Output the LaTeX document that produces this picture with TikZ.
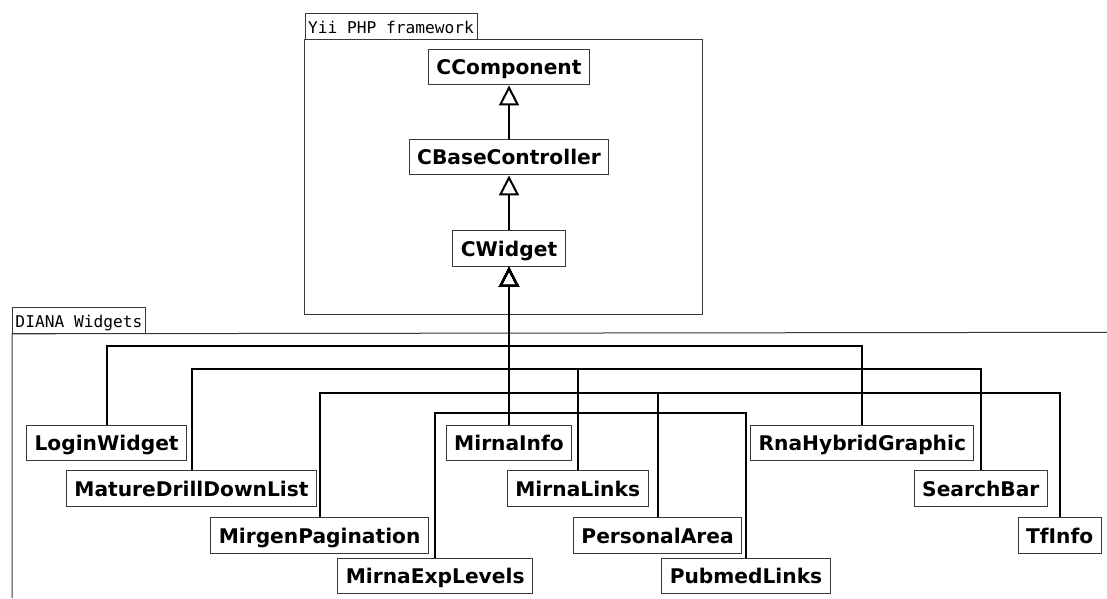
\documentclass[tikz,border=0pt]{standalone}
\usepackage{fontspec}
\setsansfont{DejaVu Sans}
\setmonofont{DejaVu Sans Mono}
\usepackage{tikz}
\usetikzlibrary{arrows.meta, positioning, calc}
\definecolor{mydark}{RGB}{0,0,0}
\definecolor{myborder}{RGB}{55,55,55}
\tikzset{
  classbox/.style={rectangle, draw=myborder, fill=white, line width=1pt,
    font=\sffamily\bfseries\fontsize{20.2}{24}\selectfont,
    text height=14.7pt, text depth=0pt, inner xsep=8pt, inner ysep=10.4pt},
  pkgtab/.style={rectangle, draw=myborder, line width=1pt, anchor=north west,
    font=\ttfamily\fontsize{16.2}{19}\selectfont,
    text height=16.8pt, text depth=2.7pt, inner xsep=3pt, inner ysep=3pt},
  pkgline/.style={draw=myborder, line width=1pt},
  inherit/.style={-{Triangle[open, length=20pt, width=20pt]}, line width=2pt, color=mydark}
}
\begin{document}
\begin{tikzpicture}[x=1pt, y=-1pt]
  \useasboundingbox (0,0) rectangle (1107,598);

  % Packages
  \node[pkgtab] (yiitab) at (304.7,13.3) {Yii PHP framework};
  \draw[pkgline] (yiitab.south west) rectangle (702.7,314.3);
  \node[pkgtab] (dianatab) at (12,307.3) {DIANA Widgets};
  \draw[pkgline] (1107,332.3) -- (dianatab.south west) -- (12,598);

  % Framework classes
  \node[classbox] (ccomp) at (509,67.2) {CComponent};
  \node[classbox] (cbase) at (509,157.2) {CBaseController};
  \node[classbox] (cwidget) at (509,248.7) {CWidget};

  \draw[inherit] (cbase.north) -- (ccomp.south);
  \draw[inherit] (cwidget.north) -- (cbase.south);

  % Widgets, first row
  \node[classbox] (login) at (106.6,442.8) {LoginWidget};
  \node[classbox] (mirnainfo) at (509,442.8) {MirnaInfo};
  \node[classbox] (rnahybrid) at (862.3,442.8) {RnaHybridGraphic};
  % second row
  \node[classbox] (mature) at (191.5,488.7) {MatureDrillDownList};
  \node[classbox] (mirnalinks) at (577.7,488.7) {MirnaLinks};
  \node[classbox] (searchbar) at (980.8,488.7) {SearchBar};
  % third row
  \node[classbox] (mirgen) at (319.6,535.7) {MirgenPagination};
  \node[classbox] (personal) at (657.6,535.7) {PersonalArea};
  \node[classbox] (tfinfo) at (1059.7,535.7) {TfInfo};
  % fourth row
  \node[classbox] (mirnaexp) at (435.2,576.2) {MirnaExpLevels};
  \node[classbox] (pubmed) at (746,576.2) {PubmedLinks};

  % Bus levels under CWidget
  \coordinate (busA) at (cwidget.south |- 0,346);
  \coordinate (busB) at (cwidget.south |- 0,369);
  \coordinate (busC) at (cwidget.south |- 0,392.5);
  \coordinate (busD) at (cwidget.south |- 0,413);

  % Generalisations to CWidget
  \draw[inherit] (mirnainfo.north) -- (cwidget.south);
  \draw[inherit] (login.north) |- (busA) -- (cwidget.south);
  \draw[inherit] (rnahybrid.north) |- (busA) -- (cwidget.south);
  \draw[inherit] (mature.north) |- (busB) -- (cwidget.south);
  \draw[inherit] (mirnalinks.north) |- (busB) -- (cwidget.south);
  \draw[inherit] (searchbar.north) |- (busB) -- (cwidget.south);
  \draw[inherit] (mirgen.north) |- (busC) -- (cwidget.south);
  \draw[inherit] (personal.north) |- (busC) -- (cwidget.south);
  \draw[inherit] (tfinfo.north) |- (busC) -- (cwidget.south);
  \draw[inherit] (mirnaexp.north) |- (busD) -- (cwidget.south);
  \draw[inherit] (pubmed.north) |- (busD) -- (cwidget.south);
\end{tikzpicture}
\end{document}
